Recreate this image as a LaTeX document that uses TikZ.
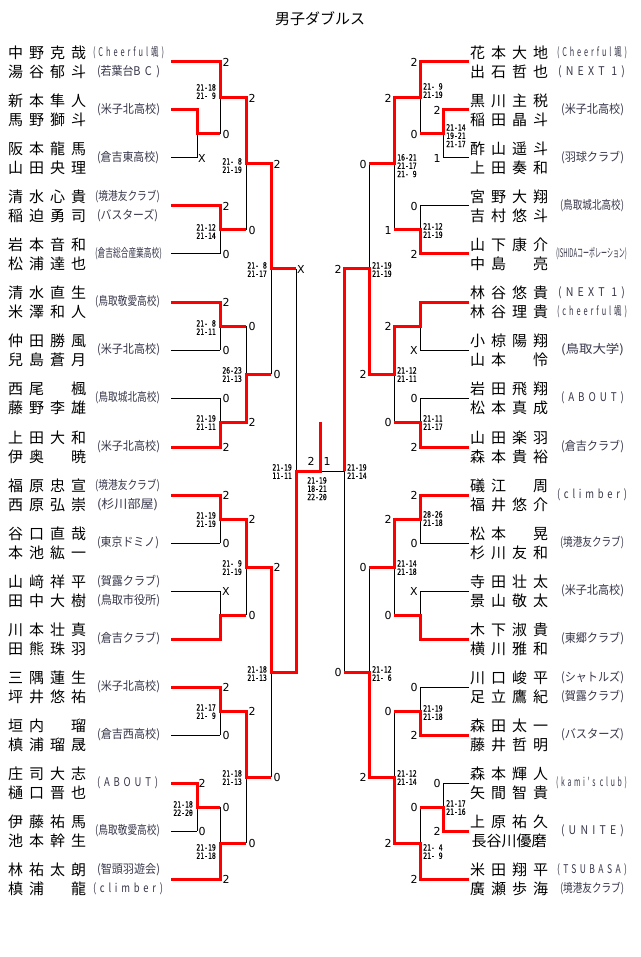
\documentclass[tikz,border=0pt]{standalone}
\usepackage{fontspec}
\usepackage{graphicx}
\newfontfamily\jp{Noto Sans CJK JP}
\newfontfamily\jpsp[LetterSpace=40]{Noto Sans CJK JP}
\newfontfamily\gsf[FakeStretch=0.76,FakeBold=0.6]{DejaVu Sans Mono}
\newfontfamily\scf{DejaVu Sans}
\definecolor{afcol}{RGB}{55,55,75}
\def\nmx#1#2#3#4{\makebox[21pt]{#1}\makebox[21pt]{#2}\makebox[21pt]{#3}\makebox[21pt]{#4}}
\newcommand\afx[2]{\resizebox{#1pt}{\height}{#2}}
\tikzset{
  bl/.style={line width=1pt, black},
  rd/.style={line width=3pt, red, line join=miter},
  nmst/.style={font=\jp\fontsize{15}{15}\selectfont, inner sep=0pt, anchor=west},
  afst/.style={font=\jp\fontsize{12}{12}\selectfont, inner sep=0pt, text=afcol},
  scst/.style={font=\scf\fontsize{11}{11}\selectfont, inner sep=0pt},
  gsL/.style={font=\gsf\fontsize{8.5}{8.3}\selectfont, inner sep=0pt, align=right, anchor=north east},
  gsR/.style={font=\gsf\fontsize{8.5}{8.3}\selectfont, inner sep=0pt, align=left, anchor=north west},
  ttl/.style={font=\jp\fontsize{15}{15}\selectfont, inner sep=0pt}
}
\begin{document}
\begin{tikzpicture}[x=1pt,y=-1pt]
\fill[white] (0,0) rectangle (640,957);
\useasboundingbox (0,0) rectangle (640,957);
\node[ttl] (title) at (320,19) {男子ダブルス};

% team line starts
\foreach \y [count=\i] in {62,110,158,206,254,302,350,398,447,495,543,591,639,687,735,783,831,879}{
  \coordinate (tL\i) at (171,\y);
  \coordinate (tR\i) at (469,\y);
}
% black team lines
\foreach \i/\x in {1/220,2/197,3/197,4/220,5/220,6/220,7/220,8/220,9/220,10/220,11/220,12/220,13/220,14/220,15/220,16/197,17/197,18/220}{
  \draw[bl] (tL\i) -- ++(\x-171,0);
  \draw[bl] (tR\i) -- ++(171-\x,0);
}
% black match verticals and outputs
\foreach \x/\ya/\yb/\ym/\xn in {197/110/158/134/220, 220/62/134/98/246, 220/206/254/230/246, 246/98/230/164/271, 220/302/350/326/246, 220/398/447/422.5/246, 246/326/422.5/374/271, 271/164/374/269/296, 220/495/543/519/246, 220/591/639/615/246, 246/519/615/567/271, 220/687/735/711/246, 197/783/831/807/220, 220/807/879/843/246, 246/711/843/777/271, 271/567/777/672/296}{
  \draw[bl] (\x,\ya) -- (\x,\yb) (\x,\ym) -- (\xn,\ym);
  \draw[bl] ({640-\x},\ya) -- ({640-\x},\yb) ({640-\x},\ym) -- ({640-\xn},\ym);
}
\coordinate (cL) at (296,471);
\coordinate (cR) at (344,471);
\draw[bl] (296,269) -- (296,672) (344,269) -- (344,672) (cL) -- (cR);

% red winner paths, left
\draw[rd] (tL1) -| (220,98) -| (246,164) -| (271,269) -- (296,269);
\draw[rd] (tL2) -| (197,134) -- (220,134);
\draw[rd] (tL4) -| (220,230) -- (246,230);
\draw[rd] (tL6) -| (220,326) -- (246,326);
\draw[rd] (tL9) -| (220,422.5) -| (246,374) -- (271,374);
\draw[rd] (tL10) -| (220,519) -| (246,567) -| (271,672) -| (cL) -| (320,422);
\draw[rd] (tL13) -| (220,615) -- (246,615);
\draw[rd] (tL14) -| (220,711) -| (246,777) -- (271,777);
\draw[rd] (tL16) -| (197,807) -- (220,807);
\draw[rd] (tL18) -| (220,843) -- (246,843);
% red winner paths, right
\draw[rd] (tR1) -| (420,98) -| (394,164) -- (369,164);
\draw[rd] (tR2) -| (443,134) -- (420,134);
\draw[rd] (tR5) -| (420,230) -- (394,230);
\draw[rd] (tR6) -| (420,326) -| (394,374) -| (369,269) -| (cR);
\draw[rd] (tR9) -| (420,422.5) -- (394,422.5);
\draw[rd] (tR10) -| (420,519) -| (394,567) -- (369,567);
\draw[rd] (tR13) -| (420,615) -- (394,615);
\draw[rd] (tR15) -| (420,711) -- (394,711);
\draw[rd] (tR17) -| (443,807) -- (420,807);
\draw[rd] (tR18) -| (420,843) -| (394,777) -| (369,672) -- (344,672);

% names, left
\foreach \y/\a/\b [count=\i] in {62/中野克哉/湯谷郁斗, 110/新本隼人/馬野獅斗, 158/阪本龍馬/山田央理, 206/清水心貴/稲迫勇司, 254/岩本音和/松浦達也, 302/清水直生/米澤和人, 350/仲田勝風/兒島蒼月, 398/西尾　楓/藤野李雄, 447/上田大和/伊奥　暁, 495/福原忠宣/西原弘崇, 543/谷口直哉/本池紘一, 591/山﨑祥平/田中大樹, 639/川本壮真/田熊珠羽, 687/三隅蓮生/坪井悠祐, 735/垣内　瑠/槙浦瑠晟, 783/庄司大志/樋口晋也, 831/伊藤祐馬/池本幹生, 879/林祐太朗/槙浦　龍}{
  \node[nmst] (nLa\i) at (5,\y-9.5) {\expandafter\nmx\a};
  \node[nmst] (nLb\i) at (5,\y+9.5) {\expandafter\nmx\b};
}
% names, right
\foreach \i/\y/\a/\b in {1/62/花本大地/出石哲也, 2/110/黒川主税/稲田晶斗, 3/158/酢山遥斗/上田奏和, 4/206/宮野大翔/吉村悠斗, 5/254/山下康介/中島　亮, 6/302/林谷悠貴/林谷理貴, 7/350/小椋陽翔/山本　怜, 8/398/岩田飛翔/松本真成, 9/447/山田楽羽/森本貴裕, 10/495/礒江　周/福井悠介, 11/543/松本　晃/杉川友和, 12/591/寺田壮太/景山敬太, 13/639/木下淑貴/横川雅和, 14/687/川口峻平/足立鷹紀, 15/735/森田太一/藤井哲明, 16/783/森本輝人/矢間智貴, 18/879/米田翔平/廣瀬歩海}{
  \node[nmst] (nRa\i) at (467,\y-9.5) {\expandafter\nmx\a};
  \node[nmst] (nRb\i) at (467,\y+9.5) {\expandafter\nmx\b};
}
\node[nmst] (nRa17) at (467,821.5) {\nmx 上原祐久};
\node[nmst] (nRb17) at (467,840.5) {\makebox[84pt]{長谷川優磨}};

% affiliations, left
\node[afst] (aL1a) at (128.5,52.5) {\afx{71}{\jpsp (Cheerful颯)}};
\node[afst] (aL1b) at (128.5,71.5) {\afx{63}{(若葉台\jpsp BC)}};
\node[afst] (aL2) at (128.5,110) {\afx{63}{(米子北高校)}};
\node[afst] (aL3) at (128,158) {\afx{62}{(倉吉東高校)}};
\node[afst] (aL4a) at (127.5,196.5) {\afx{65}{(境港友クラブ)}};
\node[afst] (aL4b) at (127.5,215.5) {\afx{61}{(バスターズ)}};
\node[afst] (aL5) at (128.5,254) {\afx{67}{(倉吉総合産業高校)}};
\node[afst] (aL6) at (127.5,302) {\afx{65}{(鳥取敬愛高校)}};
\node[afst] (aL7) at (128.5,350) {\afx{63}{(米子北高校)}};
\node[afst] (aL8) at (127.5,398) {\afx{65}{(鳥取城北高校)}};
\node[afst] (aL9) at (128.5,447) {\afx{63}{(米子北高校)}};
\node[afst] (aL10a) at (127.5,485.5) {\afx{65}{(境港友クラブ)}};
\node[afst] (aL10b) at (127.5,504.5) {\afx{61}{(杉川部屋)}};
\node[afst] (aL11) at (128,543) {\afx{62}{(東京ドミノ)}};
\node[afst] (aL12a) at (128.5,581.5) {\afx{63}{(賀露クラブ)}};
\node[afst] (aL12b) at (128.5,600.5) {\afx{63}{(鳥取市役所)}};
\node[afst] (aL13) at (128.5,639) {\afx{63}{(倉吉クラブ)}};
\node[afst] (aL14) at (128.5,687) {\afx{63}{(米子北高校)}};
\node[afst] (aL15) at (128.5,735) {\afx{63}{(倉吉西高校)}};
\node[afst] (aL16) at (127.5,783) {\afx{61}{\jpsp (ABOUT)}};
\node[afst] (aL17) at (127.5,831) {\afx{65}{(鳥取敬愛高校)}};
\node[afst] (aL18a) at (128.5,869.5) {\afx{63}{(智頭羽遊会)}};
\node[afst] (aL18b) at (128,888.5) {\afx{70}{\jpsp (climber)}};
% affiliations, right
\node[afst] (aR1a) at (592,52.5) {\afx{70}{\jpsp (Cheerful颯)}};
\node[afst] (aR1b) at (591.5,71.5) {\afx{67}{\jpsp (NEXT 1)}};
\node[afst] (aR2) at (592.5,110) {\afx{63}{(米子北高校)}};
\node[afst] (aR3) at (592.5,158) {\afx{63}{(羽球クラブ)}};
\node[afst] (aR4) at (592,206) {\afx{64}{(鳥取城北高校)}};
\node[afst] (aR5) at (591.5,254) {\afx{71}{(ISHIDAコーポレーション)}};
\node[afst] (aR6a) at (591.5,292.5) {\afx{67}{\jpsp (NEXT 1)}};
\node[afst] (aR6b) at (592,311.5) {\afx{70}{\jpsp (cheerful颯)}};
\node[afst] (aR7) at (592.5,350) {\afx{63}{(鳥取大学)}};
\node[afst] (aR8) at (592.5,398) {\afx{63}{\jpsp (ABOUT)}};
\node[afst] (aR9) at (592.5,447) {\afx{63}{(倉吉クラブ)}};
\node[afst] (aR10) at (592,495) {\afx{70}{\jpsp (climber)}};
\node[afst] (aR11) at (592,543) {\afx{64}{(境港友クラブ)}};
\node[afst] (aR12) at (592.5,591) {\afx{63}{(米子北高校)}};
\node[afst] (aR13) at (592.5,639) {\afx{63}{(東郷クラブ)}};
\node[afst] (aR14a) at (592.5,677.5) {\afx{63}{(シャトルズ)}};
\node[afst] (aR14b) at (592.5,696.5) {\afx{63}{(賀露クラブ)}};
\node[afst] (aR15) at (592.5,735) {\afx{63}{(バスターズ)}};
\node[afst] (aR16) at (591.5,783) {\afx{71}{\jpsp (kami's club)}};
\node[afst] (aR17) at (592.5,831) {\afx{63}{\jpsp (UNITE)}};
\node[afst] (aR18a) at (592,869.5) {\afx{70}{\jpsp (TSUBASA)}};
\node[afst] (aR18b) at (592,888.5) {\afx{64}{(境港友クラブ)}};

% set counts
\foreach \x/\y/\t [count=\i] in {226/62/2, 226/134/0, 226/206/2, 226/254/0, 226/302/2, 226/350/0, 226/398/0, 226/447/2, 226/495/2, 226/543/0, 226/591/X, 226/687/2, 226/735/0, 226/807/0, 226/879/2, 202/158/X, 202/783/2, 202/831/0, 252/98/2, 252/230/0, 252/326/0, 252/422.5/2, 252/519/2, 252/615/0, 252/711/2, 252/843/0, 277/164/2, 277/374/0, 277/567/2, 277/777/0, 301/269/X, 311/461/2, 327/461/1}{
  \node[scst] (sL\i) at (\x,\y) {\t};
}
\foreach \x/\y/\t [count=\i] in {414/62/2, 414/134/0, 414/206/0, 414/254/2, 414/350/X, 414/398/0, 414/447/2, 414/495/2, 414/543/0, 414/591/X, 414/687/0, 414/735/2, 414/807/0, 414/879/2, 437/110/2, 437/158/1, 437/783/0, 437/831/2, 388/98/2, 388/230/1, 388/326/2, 388/422.5/0, 388/519/2, 388/615/0, 388/711/0, 388/843/2, 363/164/0, 363/374/2, 363/567/0, 363/777/2, 338/269/2, 338/672/0}{
  \node[scst] (sR\i) at (\x,\y) {\t};
}

% game scores, left
\node[gsL] (gL1) at (216,84) {21-18\\21- 9};
\node[gsL] (gL2) at (242,158) {21- 8\\21-19};
\node[gsL] (gL3) at (216,224) {21-12\\21-14};
\node[gsL] (gL4) at (267,262) {21- 8\\21-17};
\node[gsL] (gL5) at (216,320) {21- 8\\21-11};
\node[gsL] (gL6) at (242,367) {26-23\\21-13};
\node[gsL] (gL7) at (216,415) {21-19\\21-11};
\node[gsL] (gL8) at (292,464) {21-19\\11-11};
\node[gsL] (gL9) at (216,512) {21-19\\21-19};
\node[gsL] (gL10) at (242,560) {21- 9\\21-19};
\node[gsL] (gL11) at (267,666) {21-18\\21-13};
\node[gsL] (gL12) at (216,704) {21-17\\21- 9};
\node[gsL] (gL13) at (193,801) {21-18\\22-20};
\node[gsL] (gL14) at (242,770) {21-18\\21-13};
\node[gsL] (gL15) at (216,844) {21-19\\21-18};
\node[font=\gsf\fontsize{8.5}{8.3}\selectfont, inner sep=0pt, align=center, anchor=north] (gF) at (317,477) {21-19\\18-21\\22-20};
% game scores, right
\node[gsR] (gR1) at (446,124) {21-14\\19-21\\21-17};
\node[gsR] (gR2) at (423,83) {21- 9\\21-19};
\node[gsR] (gR3) at (423,223) {21-12\\21-19};
\node[gsR] (gR4) at (397,154) {16-21\\21-17\\21- 9};
\node[gsR] (gR5) at (372,262) {21-19\\21-19};
\node[gsR] (gR6) at (397,367) {21-12\\21-11};
\node[gsR] (gR7) at (423,415) {21-11\\21-17};
\node[gsR] (gR8) at (347,464) {21-19\\21-14};
\node[gsR] (gR9) at (423,511) {28-26\\21-18};
\node[gsR] (gR10) at (397,560) {21-14\\21-18};
\node[gsR] (gR11) at (372,666) {21-12\\21- 6};
\node[gsR] (gR12) at (423,705) {21-19\\21-18};
\node[gsR] (gR13) at (446,800) {21-17\\21-16};
\node[gsR] (gR14) at (423,844) {21- 4\\21- 9};
\node[gsR] (gR15) at (397,770) {21-12\\21-14};
\end{tikzpicture}
\end{document}
